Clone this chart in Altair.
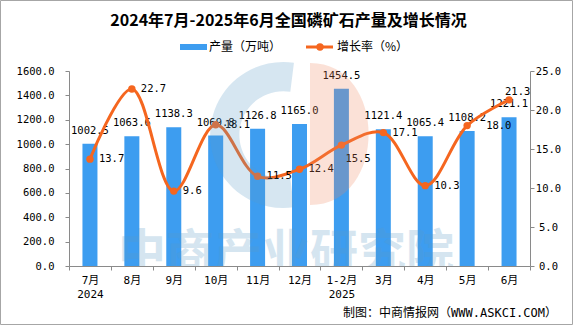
import altair as alt
import pandas as pd

# ---------------- data ----------------
months = ["7月", "8月", "9月", "10月", "11月", "12月", "1-2月", "3月", "4月", "5月", "6月"]
output = [1002.5, 1063.6, 1138.3, 1069.8, 1126.8, 1165.0, 1454.5, 1121.4, 1065.4, 1108.2, 1221.1]
growth = [13.7, 22.7, 9.6, 18.1, 11.5, 12.4, 15.5, 17.1, 10.3, 18.0, 21.3]
year_labels = {"7月": "2024", "1-2月": "2025"}
left_ticks = [0, 200, 400, 600, 800, 1000, 1200, 1400, 1600]
right_ticks = [0, 5, 10, 15, 20, 25]
title_text = "2024年7月-2025年6月全国磷矿石产量及增长情况"
legend_labels = ["产量（万吨）", "增长率（%）"]
source_text = "制图：中商情报网（WWW.ASKCI.COM）"
watermark_text = "中商产业研究院"

df = pd.DataFrame({"month": months, "output": output, "growth": growth})
one = pd.DataFrame({"k": [0]})

# ---------------- styles ----------------
W, H = 461, 195
PL, PT = 69, 71
BAR = "#3d9df0"
LINE = "#f5661f"
AXC = "#8a8a8a"
NUM = "DejaVu Sans Mono, Noto Sans CJK SC"
CJK = "Noto Sans CJK SC"
WM_BLUE = "#5b9bc6"
WM_SALMON = "#f08860"

# label offsets for growth labels (dx, dy)
special = {"1-2月": (4, 14), "6月": (-4, -8), "5月": (19, 0)}

label_expr = "datum.label"
for m, yr in year_labels.items():
    label_expr = f"datum.label == '{m}' ? ['{m}', '{yr}'] : ({label_expr})"

x_enc = alt.X(
    "month:N", sort=months,
    scale=alt.Scale(paddingInner=0, paddingOuter=0),
    axis=alt.Axis(title=None, labelAngle=0, tickBand="extent", domainColor=AXC,
                  tickColor=AXC, tickSize=4, labelFont=NUM, labelFontSize=11,
                  labelColor="black", labelPadding=4, labelBaseline="top",
                  labelLineHeight=14, labelExpr=label_expr),
)

yl = alt.Y("output:Q", scale=alt.Scale(domain=[0, 1600], nice=False),
           axis=alt.Axis(title=None, values=left_ticks, format=".1f", grid=False,
                         domainColor=AXC, tickColor=AXC, tickSize=4, labelPadding=11,
                         labelFont=NUM, labelFontSize=10.5, labelColor="black"))
yr_ = alt.Y("growth:Q", scale=alt.Scale(domain=[0, 25], nice=False),
            axis=alt.Axis(title=None, orient="right", values=right_ticks, format=".1f",
                          grid=False, domainColor=AXC, tickColor=AXC, tickSize=4,
                          labelAlign="center", labelPadding=14,
                          labelFont=NUM, labelFontSize=10.5, labelColor="black"))

base = alt.Chart(df)

bars = base.mark_bar(size=15, color=BAR).encode(x=x_enc, y=yl)
bar_text = base.mark_text(dy=-13, baseline="middle", font=NUM, fontSize=10.5,
                          color="black").encode(
    x=x_enc, y=yl, text=alt.Text("output:Q", format=".1f"))
left = alt.layer(bars, bar_text)

line = base.mark_line(interpolate="catmull-rom", color=LINE, strokeWidth=3).encode(
    x=x_enc, y=yr_)
pts = base.mark_point(filled=True, size=55, color=LINE, opacity=1).encode(x=x_enc, y=yr_)
gl = [base.transform_filter({"not": {"field": "month", "oneOf": list(special)}})
      .mark_text(dx=9, align="left", baseline="middle", font=NUM, fontSize=10.5,
                 color="black")
      .encode(x=x_enc, y=yr_, text=alt.Text("growth:Q", format=".1f"))]
for m, (dx, dy) in special.items():
    gl.append(base.transform_filter(alt.datum.month == m)
              .mark_text(dx=dx, dy=dy, align="left", baseline="middle", font=NUM,
                         fontSize=10.5, color="black")
              .encode(x=x_enc, y=yr_, text=alt.Text("growth:Q", format=".1f")))
right = alt.layer(line, pts, *gl)

data_layer = alt.layer(left, right).resolve_scale(y="independent")

# ---------------- decorations ----------------
oc = alt.Chart(one)
c_path = "M0.15,-0.989 A1,1 0 1 0 0.15,0.989 L0.1,0.592 A0.6,0.6 0 1 1 0.1,-0.592 Z"
d_path = "M0,-1 C1.1,-1 1.1,1 0,1 Z"
wm_c = oc.mark_point(shape=c_path, filled=True, size=146 * 146, color=WM_BLUE,
                     opacity=0.25, strokeWidth=0).encode(
    x=alt.value(283 - PL), y=alt.value(135 - PT))
wm_d = oc.mark_point(shape=d_path, filled=True, size=142 * 142, color=WM_SALMON,
                     opacity=0.25, strokeWidth=0).encode(
    x=alt.value(310 - PL), y=alt.value(134 - PT))
wm_t = oc.mark_text(text=watermark_text, font=CJK, fontSize=48, fontWeight="bold",
                    color=WM_BLUE, opacity=0.25, clip=True, baseline="middle",
                    align="center").encode(x=alt.value(286 - PL), y=alt.value(255 - PT))

title = oc.mark_text(text=title_text, font=CJK, fontSize=16, fontWeight="bold",
                     color="black", align="center", baseline="middle").encode(
    x=alt.value(288.5 - PL), y=alt.value(20.5 - PT))
leg_rect = oc.mark_rect(color=BAR).encode(
    x=alt.value(180 - PL), x2=alt.value(207 - PL), y=alt.value(44 - PT), y2=alt.value(50 - PT))
leg_t1 = oc.mark_text(text=legend_labels[0], font=CJK, fontSize=12, color="black",
                      align="left", baseline="middle").encode(
    x=alt.value(209 - PL), y=alt.value(47 - PT))
leg_rule = oc.mark_rule(color=LINE, strokeWidth=3).encode(
    x=alt.value(306 - PL), x2=alt.value(333 - PL), y=alt.value(47 - PT))
leg_pt = oc.mark_point(filled=True, size=55, color=LINE, opacity=1).encode(
    x=alt.value(320 - PL), y=alt.value(47 - PT))
leg_t2 = oc.mark_text(text=legend_labels[1], font=CJK, fontSize=12, color="black",
                      align="left", baseline="middle").encode(
    x=alt.value(337 - PL), y=alt.value(47 - PT))
src = oc.mark_text(text=source_text, font=NUM, fontSize=12, color="black",
                   align="right", baseline="middle").encode(
    x=alt.value(557 - PL), y=alt.value(313 - PT))
border = oc.mark_rect(fill=None, fillOpacity=0, stroke="#a6a6a6", strokeWidth=1).encode(
    x=alt.value(0.5 - PL), x2=alt.value(572.5 - PL), y=alt.value(0.5 - PT),
    y2=alt.value(324.5 - PT))

chart = alt.layer(
    data_layer, wm_c, wm_d, wm_t, title, leg_rect, leg_t1, leg_rule, leg_pt, leg_t2,
    src, border
).properties(
    width=W, height=H,
    padding={"left": PL, "top": PT, "right": 575 - PL - W, "bottom": 326 - PT - H},
    autosize=alt.AutoSizeParams(type="none"),
    background="white",
).configure_view(stroke=None)

chart.save("out.html", embed_options={"renderer": "svg", "actions": False})
